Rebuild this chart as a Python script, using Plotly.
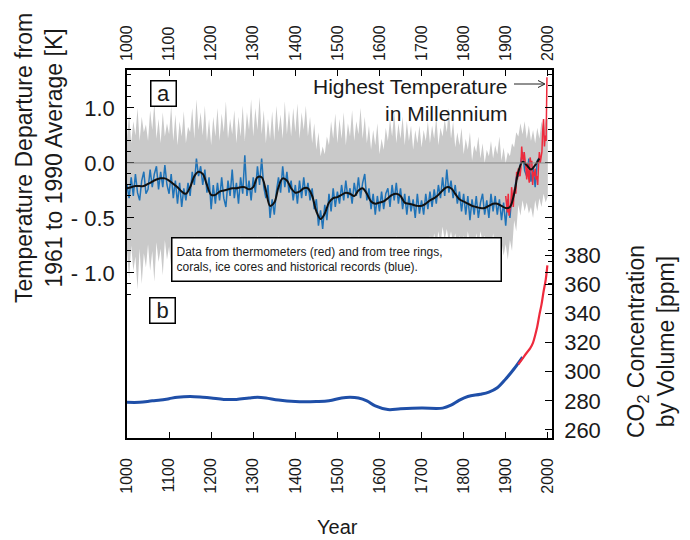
import plotly.graph_objects as go

# ---------------- data ----------------
years_band = list(range(1000, 2001, 5))
band_upper = [0.22, 0.45, 0.18, 0.38, 0.25, 0.50, 0.20, 0.42, 0.28, 0.35,
              0.20, 0.48, 0.30, 0.55, 0.22, 0.40, 0.18, 0.46, 0.24, 0.36,
              0.26, 0.52, 0.20, 0.44, 0.16, 0.38, 0.24, 0.47, 0.18, 0.33,
              0.28, 0.50, 0.22, 0.58, 0.30, 0.46, 0.25, 0.52, 0.20, 0.40,
              0.16, 0.42, 0.24, 0.50, 0.20, 0.45, 0.28, 0.56, 0.22, 0.40,
              0.26, 0.48, 0.18, 0.42, 0.24, 0.52, 0.20, 0.46, 0.30, 0.58,
              0.24, 0.50, 0.30, 0.60, 0.26, 0.48, 0.18, 0.40, 0.22, 0.47,
              0.20, 0.52, 0.28, 0.44, 0.22, 0.56, 0.26, 0.48, 0.24, 0.50,
              0.28, 0.54, 0.22, 0.46, 0.30, 0.52, 0.24, 0.42, 0.18, 0.36,
              0.12, 0.28, 0.06, 0.15, 0.08, 0.24, 0.16, 0.38, 0.22, 0.45,
              0.18, 0.40, 0.22, 0.46, 0.16, 0.36, 0.24, 0.48, 0.20, 0.38,
              0.26, 0.50, 0.22, 0.42, 0.18, 0.34, 0.12, 0.30, 0.16, 0.36,
              0.08, 0.22, 0.12, 0.32, 0.20, 0.40, 0.24, 0.46, 0.18, 0.36,
              0.22, 0.42, 0.16, 0.38, 0.20, 0.34, 0.12, 0.30, 0.18, 0.34,
              0.14, 0.30, 0.20, 0.38, 0.18, 0.34, 0.22, 0.42, 0.16, 0.32,
              0.24, 0.40, 0.28, 0.50, 0.22, 0.38, 0.14, 0.28, 0.16, 0.32,
              0.08, 0.22, 0.12, 0.28, 0.02, 0.16, 0.10, 0.24, 0.04, 0.18,
              0.00, 0.12, 0.06, 0.20, 0.04, 0.16, 0.08, 0.24, 0.02, 0.14,
              0.00, 0.10, 0.06, 0.18, 0.14, 0.28, 0.24, 0.36, 0.26, 0.38,
              0.22, 0.34, 0.20, 0.30, 0.18, 0.32, 0.22, 0.38, 0.28, 0.40,
              0.40]
band_lower = [-0.80, -1.05, -0.75, -0.98, -0.85, -1.15, -0.78, -1.10, -0.82, -0.95,
              -0.74, -0.98, -0.80, -1.08, -0.72, -0.90, -0.78, -1.02, -0.70, -0.88,
              -0.76, -0.95, -0.70, -0.90, -0.78, -1.00, -0.72, -0.88, -0.80, -0.96,
              -0.70, -0.86, -0.66, -0.84, -0.72, -0.92, -0.68, -0.85, -0.74, -0.90,
              -0.78, -0.96, -0.72, -0.88, -0.80, -0.94, -0.70, -0.84, -0.74, -0.90,
              -0.68, -0.86, -0.72, -0.92, -0.66, -0.82, -0.74, -0.88, -0.70, -0.84,
              -0.72, -0.90, -0.66, -0.80, -0.74, -0.92, -0.78, -0.96, -0.70, -0.86,
              -0.76, -0.90, -0.66, -0.82, -0.70, -0.86, -0.68, -0.84, -0.72, -0.88,
              -0.70, -0.86, -0.74, -0.90, -0.68, -0.82, -0.72, -0.88, -0.80, -0.95,
              -0.84, -1.00, -0.90, -1.05, -0.86, -0.98, -0.78, -0.92, -0.74, -0.88,
              -0.72, -0.86, -0.68, -0.82, -0.70, -0.84, -0.66, -0.80, -0.72, -0.88,
              -0.66, -0.82, -0.70, -0.86, -0.72, -0.88, -0.76, -0.92, -0.78, -0.90,
              -0.76, -0.90, -0.72, -0.86, -0.68, -0.80, -0.70, -0.84, -0.66, -0.82,
              -0.72, -0.86, -0.76, -0.90, -0.74, -0.88, -0.76, -0.92, -0.72, -0.86,
              -0.74, -0.88, -0.70, -0.82, -0.66, -0.78, -0.64, -0.76, -0.62, -0.74,
              -0.58, -0.70, -0.60, -0.72, -0.62, -0.74, -0.64, -0.76, -0.66, -0.78,
              -0.66, -0.78, -0.62, -0.74, -0.68, -0.80, -0.64, -0.76, -0.62, -0.72,
              -0.66, -0.78, -0.68, -0.80, -0.64, -0.76, -0.70, -0.82, -0.72, -0.84,
              -0.74, -0.88, -0.70, -0.80, -0.52, -0.62, -0.38, -0.48, -0.34, -0.44,
              -0.36, -0.46, -0.40, -0.50, -0.34, -0.44, -0.32, -0.40, -0.28, -0.36,
              -0.30]

years_recon = list(range(1000, 1981, 5))
recon = [-0.20, -0.32, -0.13, -0.30, -0.10, -0.27, -0.34, -0.16, -0.08, -0.28,
         -0.24, -0.06, -0.22, -0.10, -0.03, -0.24, -0.08, -0.22, -0.02, -0.20,
         -0.28, -0.10, -0.32, -0.16, -0.37, -0.18, -0.40, -0.23, -0.34, -0.18,
         -0.30, -0.08, -0.20, 0.04, -0.12, -0.03, -0.20, -0.06, -0.27, -0.13,
         -0.42, -0.20, -0.37, -0.18, -0.34, -0.13, -0.32, -0.40, -0.16, -0.30,
         -0.06, -0.32, -0.18, -0.37, -0.13, -0.28, 0.07, -0.30, -0.16, -0.34,
         -0.13, -0.27, -0.03, -0.20, 0.04, -0.22, -0.32, -0.20, -0.50, -0.33,
         -0.47, -0.26, -0.13, -0.27, -0.03, -0.22, -0.08, -0.27, -0.16, -0.34,
         -0.20, -0.37, -0.16, -0.32, -0.13, -0.30, -0.18, -0.34, -0.23, -0.42,
         -0.33, -0.57, -0.43, -0.60, -0.38, -0.52, -0.28, -0.44, -0.23, -0.40,
         -0.26, -0.37, -0.20, -0.34, -0.16, -0.32, -0.23, -0.37, -0.18, -0.30,
         -0.13, -0.32, -0.18, -0.10, -0.34, -0.23, -0.42, -0.28, -0.47, -0.30,
         -0.44, -0.26, -0.42, -0.28, -0.23, -0.40, -0.20, -0.34, -0.18, -0.37,
         -0.23, -0.42, -0.28, -0.47, -0.30, -0.44, -0.33, -0.50, -0.28, -0.46,
         -0.34, -0.47, -0.28, -0.42, -0.26, -0.40, -0.24, -0.37, -0.20, -0.32,
         -0.13, -0.30, -0.06, -0.27, -0.16, -0.32, -0.20, -0.37, -0.26, -0.44,
         -0.28, -0.47, -0.30, -0.52, -0.33, -0.47, -0.30, -0.50, -0.36, -0.28,
         -0.47, -0.34, -0.50, -0.28, -0.44, -0.30, -0.47, -0.33, -0.52, -0.36,
         -0.57, -0.33, -0.50, -0.28, -0.30, -0.13, -0.12, 0.00, 0.10, -0.07,
         -0.12, 0.04, -0.17, -0.03, -0.22, 0.02, 0.05]

years_smooth = list(range(1000, 1981, 10))
smooth = [-0.23, -0.22, -0.21, -0.21, -0.21, -0.19, -0.17, -0.15, -0.14, -0.14,
          -0.16, -0.19, -0.22, -0.26, -0.28, -0.22, -0.12, -0.08, -0.10, -0.20,
          -0.29, -0.29, -0.26, -0.25, -0.24, -0.23, -0.23, -0.22, -0.22, -0.24,
          -0.22, -0.13, -0.13, -0.25, -0.39, -0.36, -0.22, -0.14, -0.16, -0.23,
          -0.27, -0.26, -0.23, -0.23, -0.30, -0.44, -0.51, -0.46, -0.36, -0.32,
          -0.31, -0.29, -0.27, -0.28, -0.30, -0.25, -0.23, -0.28, -0.35, -0.37,
          -0.36, -0.35, -0.32, -0.29, -0.28, -0.30, -0.36, -0.37, -0.38, -0.39,
          -0.39, -0.37, -0.34, -0.32, -0.29, -0.25, -0.22, -0.23, -0.28, -0.33,
          -0.35, -0.37, -0.39, -0.40, -0.41, -0.41, -0.39, -0.37, -0.37, -0.39,
          -0.41, -0.40, -0.28, -0.08, 0.01, -0.02, -0.06, -0.02, 0.04]

years_thermo = list(range(1900, 1999, 2))
thermo = [-0.30, -0.38, -0.45, -0.28, -0.48, -0.42, -0.40, -0.22, -0.35, -0.40,
          -0.25, -0.22, -0.28, -0.08, -0.15, -0.05, -0.10, -0.12, -0.05, 0.15,
          0.05, 0.02, 0.10, -0.02, -0.05, -0.15, 0.00, -0.12, -0.18, 0.05,
          0.00, 0.02, -0.20, -0.08, -0.12, -0.05, -0.15, -0.12, -0.20, -0.02,
          0.10, 0.00, 0.05, 0.10, 0.30, 0.40, 0.15, 0.25, 0.20, 0.78]

years_co2_ice = [1000, 1030, 1060, 1080, 1100, 1120, 1150, 1180, 1200, 1230,
                 1260, 1290, 1310, 1330, 1360, 1400, 1450, 1480, 1510, 1530,
                 1550, 1570, 1590, 1620, 1650, 1700, 1750, 1770, 1790, 1810,
                 1840, 1860, 1880, 1900, 1920, 1940]
co2_ice = [279, 279, 280, 280.5, 281.5, 282.5, 283, 282.5, 282, 281,
           281, 282, 282.5, 282, 280.5, 279.5, 279.5, 280, 282, 282.5,
           282, 280, 276.5, 274, 274.5, 275, 275, 277, 280.5, 283,
           284.5, 286, 289, 295, 302, 310]

years_co2_atm = [1930, 1940, 1950, 1958, 1965, 1970, 1975, 1980, 1985, 1990, 1995, 1999]
co2_atm = [305, 309, 313, 316, 320, 325, 331, 339, 346, 355, 363, 373]

year_ticks = list(range(1000, 2001, 100))
temp_tickvals = [0.5, 0.0, -0.5, -1.0]
temp_ticktext = ["1.0", "0.0", "- 0.5", "- 1.0"]
temp_minor = [round(-1.2 + 0.1 * i, 1) for i in range(21)]
co2_ticks = [260, 280, 300, 320, 340, 360, 380]

# ---------------- layout helpers ----------------
OFF = 8                      # page body margin offset in the browser
W, H = 690 - OFF, 540 - OFF  # figure size so that it fits the window
L, R, T, B = 127, 552, 70, 438   # plot frame in window pixels


def px(x):
    return (x - L) / (R - L)


def py(y):
    return (B - y) / (B - T)


FONT = "Liberation Sans, Arial, Helvetica, sans-serif"
TXT = "#1a1a1a"

fig = go.Figure()

# uncertainty band
fig.add_trace(go.Scatter(x=years_band, y=band_lower, mode="lines", line=dict(width=0),
                         showlegend=False, hoverinfo="skip"))
fig.add_trace(go.Scatter(x=years_band, y=band_upper, mode="lines", line=dict(width=0),
                         fill="tonexty", fillcolor="#c9c9c9", showlegend=False, hoverinfo="skip"))
# reconstruction
fig.add_trace(go.Scatter(x=years_recon, y=recon, mode="lines", line=dict(color="#1f73b8", width=1.5),
                         showlegend=False))
# thermometers
fig.add_trace(go.Scatter(x=years_thermo, y=thermo, mode="lines", line=dict(color="#ee2a3c", width=1.5),
                         showlegend=False))
# smoothed
fig.add_trace(go.Scatter(x=years_smooth, y=smooth, mode="lines",
                         line=dict(color="#111111", width=2, shape="spline"), showlegend=False))
# CO2
fig.add_trace(go.Scatter(x=years_co2_ice, y=co2_ice, mode="lines", yaxis="y2",
                         line=dict(color="#1f4fa8", width=3, shape="spline"), showlegend=False))
fig.add_trace(go.Scatter(x=years_co2_atm, y=co2_atm, mode="lines", yaxis="y2",
                         line=dict(color="#ee2a3c", width=2.2, shape="spline"), showlegend=False))
# invisible trace to anchor the top year axis
fig.add_trace(go.Scatter(x=years_smooth, y=smooth, mode="lines", xaxis="x2",
                         line=dict(width=0), opacity=0, showlegend=False, hoverinfo="skip"))

axis_common = dict(showgrid=False, zeroline=False, linecolor="black", linewidth=1.5,
                   ticks="inside", tickcolor="black", tickwidth=1.3)

fig.update_layout(
    width=W, height=H,
    margin=dict(l=L - OFF, r=W - (R - OFF), t=T - OFF, b=H - (B - OFF)),
    paper_bgcolor="white", plot_bgcolor="white",
    font=dict(family=FONT, color=TXT),
    showlegend=False,
    xaxis=dict(range=[1000, 2010], tickmode="array", tickvals=year_ticks, tickangle=-90,
               tickfont=dict(size=16), ticklen=6, showline=True, mirror=True,
               ticklabelstandoff=12, **axis_common),
    xaxis2=dict(range=[1000, 2010], overlaying="x", side="top", tickmode="array",
                tickvals=year_ticks, tickangle=-90, tickfont=dict(size=16), ticklen=6,
                showline=False, ticklabelstandoff=8, **axis_common),
    yaxis=dict(range=[-2.5, 0.845], tickmode="array", tickvals=temp_tickvals, ticktext=temp_ticktext,
               tickfont=dict(size=22), ticklen=7, showline=True, mirror="ticks",
               ticklabelstandoff=6,
               minor=dict(tickmode="array", tickvals=temp_minor, ticks="inside", ticklen=4,
                          tickcolor="black", tickwidth=1),
               **axis_common),
    yaxis2=dict(range=[254.5, 507], overlaying="y", side="right", tickmode="array",
                tickvals=co2_ticks, tickfont=dict(size=22), ticklen=7, showline=True,
                ticklabelstandoff=6, **axis_common),
)

# zero reference line
fig.add_shape(type="line", xref="paper", yref="y", x0=0, x1=1, y0=0, y1=0,
              line=dict(color="#8a8a8a", width=1), layer="above")
# arrow towards the highest temperature
fig.add_shape(type="line", xref="paper", yref="paper", x0=px(514), x1=px(544),
              y0=py(84), y1=py(84), line=dict(color="#222", width=1))
fig.add_shape(type="path", xref="paper", yref="paper",
              path=f"M {px(538)} {py(80.5)} L {px(545)} {py(84)} L {px(538)} {py(87.5)}",
              line=dict(color="#222", width=1))

ann = []
ann.append(dict(x=px(39), y=py(158), xref="paper", yref="paper", textangle=-90,
                text="Temperature Departure from<br>1961 to 1990 Average [K]",
                font=dict(size=23), showarrow=False, xanchor="center", yanchor="middle"))
ann.append(dict(x=px(651), y=py(342), xref="paper", yref="paper", textangle=-90,
                text="CO<sub>2</sub> Concentration<br>by Volume [ppm]",
                font=dict(size=23), showarrow=False, xanchor="center", yanchor="middle"))
ann.append(dict(x=px(337), y=py(527), xref="paper", yref="paper", text="Year",
                font=dict(size=20), showarrow=False, xanchor="center", yanchor="middle"))
ann.append(dict(x=px(510), y=py(100), xref="paper", yref="paper",
                text="Highest Temperature<br>in Millennium", align="right",
                font=dict(size=21), showarrow=False, xanchor="right", yanchor="middle"))
for lab, cx, cy in [("a", 163.5, 94), ("b", 162.5, 310.5)]:
    ann.append(dict(x=px(cx), y=py(cy), xref="paper", yref="paper", text=lab,
                    font=dict(size=22), showarrow=False, xanchor="center", yanchor="middle",
                    bordercolor="black", borderwidth=1.5, borderpad=1, width=22, height=22,
                    bgcolor="white"))
ann.append(dict(x=px(336), y=py(259), xref="paper", yref="paper",
                text="Data from thermometers (red) and from tree rings,<br>corals, ice cores and historical records (blue).",
                font=dict(size=12), align="left", showarrow=False, xanchor="center", yanchor="middle",
                bordercolor="black", borderwidth=1.5, borderpad=4, width=320, height=34,
                bgcolor="white"))
fig.update_layout(annotations=ann)

fig.write_html("out.html")
